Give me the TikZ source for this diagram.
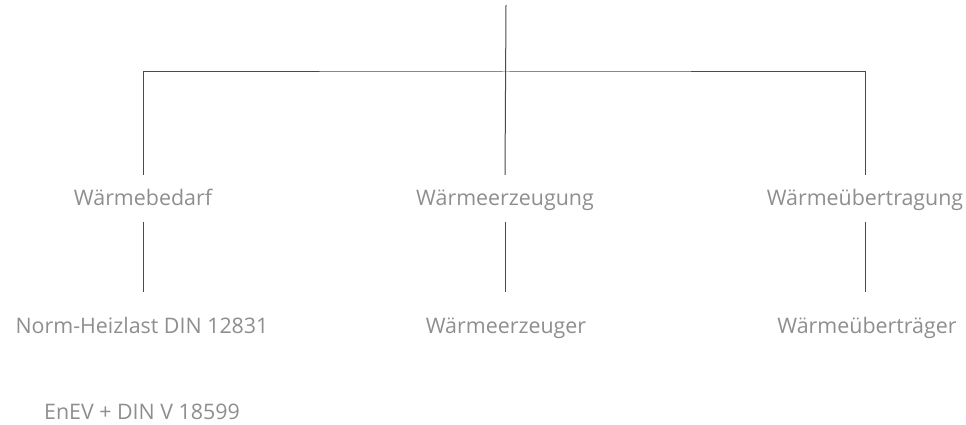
\documentclass[tikz,border=0pt]{standalone}
\usepackage{fontspec}
\setmainfont{Open Sans}
\usetikzlibrary{positioning}
\definecolor{labelgray}{HTML}{8E8E8E}
\definecolor{linegray}{HTML}{4A4A4A}

\begin{document}
\begin{tikzpicture}[
		x=1pt, y=-1pt,
		topic/.style={font=\fontsize{21.4}{25}\selectfont, text=labelgray, inner xsep=0pt, inner ysep=12pt, text height=18pt, text depth=5pt, anchor=base},
		link/.style={draw=linegray, line width=1pt}
		]
		\useasboundingbox (0,0) rectangle (966,425);
		
		% ==========================================
		% FIRST LEVEL
		% ==========================================
		
		\coordinate (root) at (506,5);
		\coordinate (bar) at (506,72);
		
		\node[topic] (bedarf) at (143,205) {Wärmebedarf};
		\node[topic] (erzeugung) at (505,205) {Wärmeerzeugung};
		\node[topic] (uebertragung) at (865,205) {Wärmeübertragung};
		
		\draw[link] (root) -- (erzeugung.north);
		\draw[link] (bedarf.north) |- (bar) -| (uebertragung.north);
		
		% ==========================================
		% SECOND LEVEL
		% ==========================================
		
		\node[topic] (heizlast) at (142,333) {Norm-Heizlast DIN 12831};
		\node[topic] (erzeuger) at (506,333) {Wärmeerzeuger};
		\node[topic] (uebertraeger) at (867,333) {Wärmeüberträger};
		
		\draw[link, shorten >=11pt] (bedarf.south) -- (bedarf.south |- heizlast.north);
		\draw[link, shorten >=11pt] (erzeugung.south) -- (erzeugung.south |- erzeuger.north);
		\draw[link, shorten >=11pt] (uebertragung.south) -- (uebertragung.south |- uebertraeger.north);
		
		% Norm reference
		\node[topic] (enev) at (142,419) {EnEV + DIN V 18599};
		
	\end{tikzpicture}
\end{document}
